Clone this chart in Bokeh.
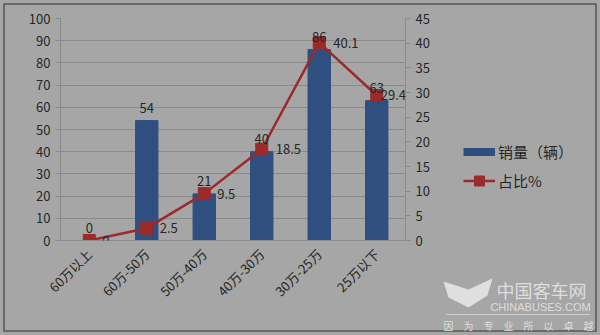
import math
from bokeh.plotting import figure
from bokeh.layouts import row, column
from bokeh.models import (Range1d, LinearAxis, ColumnDataSource, Legend, LegendItem,
                          LabelSet, FixedTicker)
from bokeh.embed import file_html
from bokeh.resources import INLINE
from bokeh.core.properties import value

categories = ["60万以上", "60万-50万", "50万-40万", "40万-30万", "30万-25万", "25万以下"]
sales = [0, 54, 21, 40, 86, 63]
share = [0, 2.5, 9.5, 18.5, 40.1, 29.4]
sales_labels = ["0", "54", "21", "40", "86", "63"]
share_labels = ["0", "2.5", "9.5", "18.5", "40.1", "29.4"]
left_ticks = [0, 10, 20, 30, 40, 50, 60, 70, 80, 90, 100]
right_ticks = [0, 5, 10, 15, 20, 25, 30, 35, 40, 45]
legend_labels = ["销量（辆）", "占比%"]
wm_title = ["中国客车网"]
wm_site = ["CHINABUSES.COM"]
wm_slogan = ["因　为　专　业　所　以　卓　越"]

FONT = "Noto Sans CJK SC"
BG = "#a6a6a6"
BAR = "#2f4f80"
LINE = "#9c2a2a"
TXT = "#262626"
GRID = "#8a8a8a"
WM = "#dedede"

# label offsets (the last one is tucked in so it stays inside the plot area)
share_offsets = [13, 13, 13, 14, 14, 4]

src = ColumnDataSource(dict(cat=categories, sales=sales, share=share,
                            sales_txt=sales_labels, share_txt=share_labels,
                            share_dx=share_offsets))

# ---------------- main chart ----------------
p = figure(width=440, height=335, x_range=categories, y_range=Range1d(0, 100),
           output_backend="svg", toolbar_location=None,
           min_border_left=60, min_border_right=35, min_border_top=18, min_border_bottom=95)
p.background_fill_alpha = 0
p.border_fill_alpha = 0
p.outline_line_color = None
p.extra_y_ranges = {"pct": Range1d(0, 45)}

p.xgrid.grid_line_color = None
p.ygrid.grid_line_color = GRID
p.ygrid.grid_line_width = 1
p.yaxis.ticker = FixedTicker(ticks=left_ticks)

ya = p.yaxis[0]
ya.axis_line_color = GRID
ya.major_tick_line_color = GRID
ya.major_tick_out = 5
ya.major_tick_in = 0
ya.minor_tick_line_color = None
ya.major_label_text_font = FONT
ya.major_label_text_font_size = "13px"
ya.major_label_text_color = TXT

ra = LinearAxis(y_range_name="pct", ticker=FixedTicker(ticks=right_ticks))
ra.axis_line_color = GRID
ra.major_tick_line_color = GRID
ra.major_tick_out = 5
ra.major_tick_in = 0
ra.minor_tick_line_color = None
ra.major_label_text_font = FONT
ra.major_label_text_font_size = "13px"
ra.major_label_text_color = TXT
p.add_layout(ra, "right")

xa = p.xaxis[0]
xa.axis_line_color = GRID
xa.major_tick_line_color = None
xa.major_label_orientation = math.pi / 4
xa.major_label_text_font = FONT
xa.major_label_text_font_size = "13px"
xa.major_label_text_color = TXT

p.vbar(x="cat", top="sales", width=0.39, source=src, fill_color=BAR, line_color=BAR)
p.add_layout(LabelSet(x="cat", y="sales", text="sales_txt", source=src, text_align="center",
                      text_baseline="bottom", y_offset=8, text_font=value(FONT),
                      text_font_size="13px", text_color=TXT))

p.line(x="cat", y="share", source=src, y_range_name="pct", line_color=LINE, line_width=2.5)
p.scatter(x="cat", y="share", source=src, y_range_name="pct", marker="square",
          size=12, fill_color=LINE, line_color=LINE)
p.add_layout(LabelSet(x="cat", y="share", text="share_txt", source=src, y_range_name="pct",
                      text_align="left", text_baseline="middle", x_offset="share_dx",
                      text_font=value(FONT), text_font_size="13px", text_color=TXT))

# ---------------- legend + watermark panel ----------------
p2 = figure(width=160, height=335, x_range=Range1d(440, 600), y_range=Range1d(335, 0),
            output_backend="svg", toolbar_location=None, min_border=0,
            x_axis_location=None, y_axis_location=None)
p2.background_fill_alpha = 0
p2.border_fill_alpha = 0
p2.outline_line_color = None
p2.grid.grid_line_color = None

bar_proxy = p2.line(x=[-10, -5], y=[-10, -10], line_color=BAR, line_width=8, line_cap="butt")
line_proxy = p2.line(x=[-10, -5], y=[-10, -10], line_color=LINE, line_width=2.5)
mark_proxy = p2.scatter(x=[-10], y=[-10], marker="square", fill_color=LINE, line_color=LINE)

legend = Legend(items=[LegendItem(label=legend_labels[0], renderers=[bar_proxy]),
                       LegendItem(label=legend_labels[1], renderers=[line_proxy, mark_proxy])],
                location=(23, 142), orientation="vertical")
legend.background_fill_alpha = 0
legend.border_line_color = None
legend.label_text_font = FONT
legend.label_text_font_size = "15px"
legend.label_text_color = TXT
legend.glyph_width = 32
legend.glyph_height = 25
legend.label_height = 25
legend.spacing = 4
legend.padding = 5
legend.label_standoff = 3
legend.margin = 0
p2.add_layout(legend, "center")

p2.patch(x=[443, 468, 492, 487, 468, 448], y=[281, 289, 278, 295, 307, 297],
         fill_color="#e6e6e6", line_color=None, fill_alpha=0.9)
p2.text(x=[541], y=[289], text=wm_title, text_align="center", text_baseline="middle",
        text_font=value(FONT), text_font_size="18px", text_color=WM)
p2.text(x=[540], y=[306], text=wm_site, text_align="center", text_baseline="middle",
        text_font=value("Liberation Sans"), text_font_size="11px", text_color=WM)
p2.line(x=[446, 590], y=[314, 314], line_color=WM, line_width=1, line_alpha=0.7)
p2.text(x=[518], y=[325], text=wm_slogan, text_align="center", text_baseline="middle",
        text_font=value(FONT), text_font_size="10px", text_color=WM)

layout = row(p, column(p2), spacing=0,
             styles={"background-color": BG,
                     "box-shadow": "inset 0 0 0 3px #a6a6a6, inset 0 0 0 5px #6a6a6a"})

open("out.html", "w").write(file_html(layout, INLINE))
